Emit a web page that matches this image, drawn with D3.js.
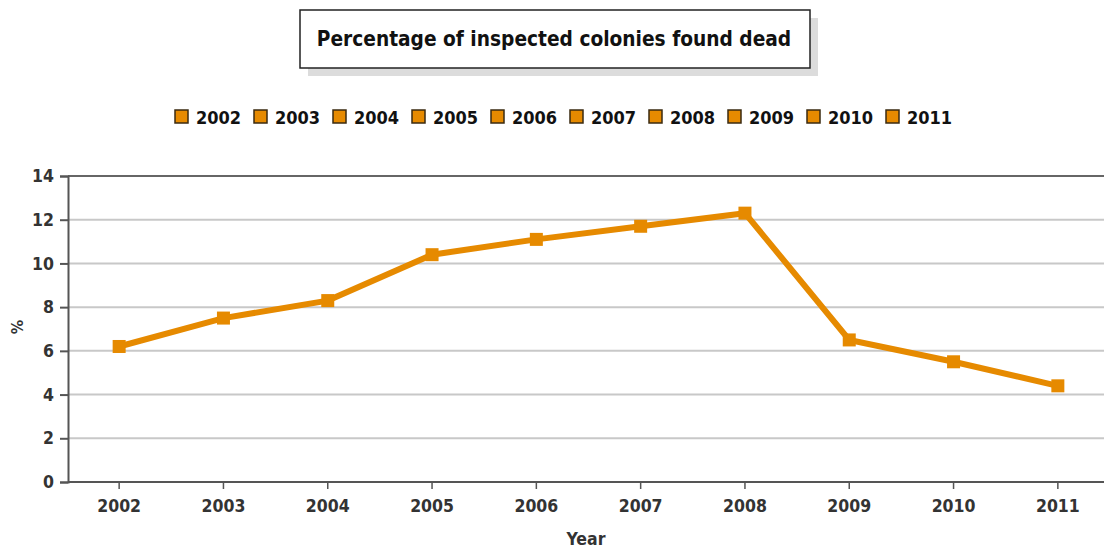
<!DOCTYPE html>
<html>
<head>
<meta charset="utf-8">
<script src="https://cdn.jsdelivr.net/npm/d3@7"></script>
<style>
  html, body { margin: 0; padding: 0; background: #fff; }
  svg { display: block; }
  text { font-family: "DejaVu Sans Condensed", "DejaVu Sans", sans-serif; font-stretch: condensed; font-weight: bold; }
</style>
</head>
<body>
<svg id="chart" width="1104" height="548"></svg>
<script>
const years = ["2002","2003","2004","2005","2006","2007","2008","2009","2010","2011"];
const values = [6.2, 7.5, 8.3, 10.4, 11.1, 11.7, 12.3, 6.5, 5.5, 4.4];
const yTicks = [0, 2, 4, 6, 8, 10, 12, 14];
const titleText = "Percentage of inspected colonies found dead";
const xTitle = "Year";
const yTitle = "%";

const W = 1104, H = 548;
const orange = "#E68A00";
const FONT = "'DejaVu Sans Condensed', 'DejaVu Sans', sans-serif";
const svg = d3.select("#chart");

const x = d3.scaleBand().domain(years).range([67, 1110]);
const y = d3.scaleLinear().domain([0, 14]).range([482, 176]);
const plotLeft = 68, plotRight = W;

// gridlines
svg.append("g").selectAll("line").data(yTicks.filter(t => t > 0 && t < 14)).join("line")
  .attr("x1", plotLeft).attr("x2", plotRight)
  .attr("y1", d => y(d)).attr("y2", d => y(d))
  .attr("stroke", "#c8c8c8").attr("stroke-width", 2);
// top border
svg.append("line").attr("x1", plotLeft).attr("x2", plotRight)
  .attr("y1", y(14)).attr("y2", y(14)).attr("stroke", "#666").attr("stroke-width", 2);

// y axis
const yAxis = d3.axisLeft(y).tickValues(yTicks).tickSize(8).tickPadding(6);
const gy = svg.append("g").attr("transform", `translate(${plotLeft},0)`).call(yAxis);
gy.select(".domain").attr("stroke", "#555").attr("stroke-width", 2);
gy.selectAll(".tick line").attr("stroke", "#555").attr("stroke-width", 2);
gy.selectAll(".tick text").attr("fill", "#333").attr("font-size", 17.5)
  .style("font-family", FONT).style("font-weight", "bold");

// x axis
const xAxis = d3.axisBottom(x).tickSize(7).tickPadding(11).tickSizeOuter(0);
const gx = svg.append("g").attr("transform", `translate(0,${y(0)})`).call(xAxis);
gx.select(".domain").attr("stroke", "#555").attr("stroke-width", 2)
  .attr("d", `M${plotLeft},0H${plotRight}`);
gx.selectAll(".tick line").attr("stroke", "#555").attr("stroke-width", 1.5);
gx.selectAll(".tick text").attr("fill", "#333").attr("font-size", 17.5)
  .style("font-family", FONT).style("font-weight", "bold");

// line
const line = d3.line().x((d, i) => x(years[i]) + x.bandwidth() / 2).y(d => y(d));
svg.append("path").datum(values).attr("d", line)
  .attr("fill", "none").attr("stroke", orange).attr("stroke-width", 6)
  .attr("stroke-linejoin", "miter");
svg.append("g").selectAll("rect").data(values).join("rect")
  .attr("x", (d, i) => x(years[i]) + x.bandwidth() / 2 - 6.5)
  .attr("y", d => y(d) - 6.5)
  .attr("width", 13).attr("height", 13).attr("fill", orange);

// axis titles
svg.append("text").attr("x", 586).attr("y", 545).attr("text-anchor", "middle")
  .attr("font-size", 17.5).attr("fill", "#333").text(xTitle);
svg.append("text").attr("transform", "translate(23,327) rotate(-90)").attr("text-anchor", "middle")
  .attr("font-size", 16).attr("fill", "#333").text(yTitle);

// title box
svg.append("rect").attr("x", 308).attr("y", 18).attr("width", 510).attr("height", 58).attr("fill", "#dcdcdc");
svg.append("rect").attr("x", 300).attr("y", 10).attr("width", 510).attr("height", 58)
  .attr("fill", "#fff").attr("stroke", "#222").attr("stroke-width", 1.5);
svg.append("text").attr("x", 554).attr("y", 46).attr("text-anchor", "middle")
  .attr("font-size", 20.7).attr("fill", "#111").text(titleText);

// legend
const legend = svg.append("g");
const lg = legend.selectAll("g").data(years).join("g")
  .attr("transform", (d, i) => `translate(${175 + i * 79},110)`);
lg.append("rect").attr("x", 0).attr("y", 0).attr("width", 13).attr("height", 13)
  .attr("fill", orange).attr("stroke", "#3a2a10").attr("stroke-width", 1.5);
lg.append("text").attr("x", 21).attr("y", 13.5).attr("font-size", 18).attr("fill", "#111").text(d => d);
</script>
</body>
</html>
